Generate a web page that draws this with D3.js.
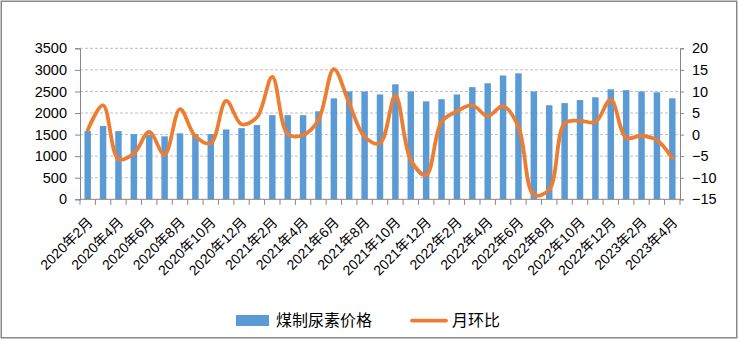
<!DOCTYPE html>
<html>
<head>
<meta charset="utf-8">
<script src="https://cdn.jsdelivr.net/npm/d3@7/dist/d3.min.js"></script>
<style>
  html, body { margin: 0; padding: 0; background: #fff; }
  svg { display: block; }
  text { font-family: "Liberation Sans", "Noto Sans CJK SC", sans-serif; fill: #000; }
</style>
</head>
<body>
<svg id="chart" width="738" height="339"></svg>
<script>
// Monthly categories, Feb 2020 – Apr 2023
const months = [
  "2020年2月","2020年3月","2020年4月","2020年5月","2020年6月","2020年7月","2020年8月","2020年9月","2020年10月","2020年11月","2020年12月",
  "2021年1月","2021年2月","2021年3月","2021年4月","2021年5月","2021年6月","2021年7月","2021年8月","2021年9月","2021年10月","2021年11月","2021年12月",
  "2022年1月","2022年2月","2022年3月","2022年4月","2022年5月","2022年6月","2022年7月","2022年8月","2022年9月","2022年10月","2022年11月","2022年12月",
  "2023年1月","2023年2月","2023年3月","2023年4月"
];

// 煤制尿素价格 (left axis)
const price = [
  1580, 1700, 1580, 1510, 1500, 1460, 1530, 1510, 1510, 1620, 1650,
  1720, 1950, 1950, 1950, 2040, 2340, 2500, 2500, 2430, 2665, 2500, 2270,
  2320, 2430, 2600, 2690, 2870, 2920, 2500, 2180, 2230, 2300, 2365, 2550,
  2530, 2500, 2480, 2340
];

// 月环比 (right axis, %)
const mom = [
  1.0, 6.8, -5.7, -4.4, 0.6, -4.7, 5.9, -0.4, -2.0, 7.8, 2.4,
  4.0, 13.4, 0.1, -0.1, 3.4, 15.2, 7.2, -0.5, -2.0, 9.1, -5.9, -9.4,
  3.0, 5.4, 6.8, 4.3, 6.6, 1.8, -14.0, -12.8, 2.6, 3.2, 2.9, 8.1,
  -0.7, -0.3, -1.3, -5.5
];

const leftTicks = [0, 500, 1000, 1500, 2000, 2500, 3000, 3500];
const rightTicks = [-15, -10, -5, 0, 5, 10, 15, 20];
const seriesNames = ["煤制尿素价格", "月环比"];

const svg = d3.select("#chart");
const axisColor = "#868686";
const barColor = "#5B9BD5";
const lineColor = "#ED7D31";

const plot = { left: 80, right: 680, top: 48.3, bottom: 199.3 };

// outer frame
svg.append("rect")
  .attr("x", 1.25).attr("y", 1.25)
  .attr("width", 735.5).attr("height", 336.5)
  .attr("fill", "#fff").attr("stroke", "#898989").attr("stroke-width", 1.5);

const x = d3.scaleBand().domain(months).range([plot.left, plot.right]).padding(0);
const yL = d3.scaleLinear().domain([0, 3500]).range([plot.bottom, plot.top]);
const yR = d3.scaleLinear().domain([-15, 20]).range([plot.bottom, plot.top]);

// dashed gridlines
svg.append("g").selectAll("line")
  .data(leftTicks.filter(d => d > 0))
  .join("line")
  .attr("x1", plot.left).attr("x2", plot.right)
  .attr("y1", d => yL(d)).attr("y2", d => yL(d))
  .attr("stroke", "#BFBFBF").attr("stroke-width", 1)
  .attr("stroke-dasharray", "3,2");

// bars
const barW = x.step() * 0.42;
svg.append("g").selectAll("rect")
  .data(price)
  .join("rect")
  .attr("x", (d, i) => x(months[i]) + x.step() / 2 - barW / 2)
  .attr("y", d => yL(d))
  .attr("width", barW)
  .attr("height", d => yL(0) - yL(d))
  .attr("fill", barColor);

// left axis
const gL = svg.append("g").attr("transform", `translate(${plot.left},0)`)
  .call(d3.axisLeft(yL).tickValues(leftTicks).tickFormat(d3.format("d")).tickSize(5).tickPadding(8));
gL.select(".domain").attr("stroke", axisColor);
gL.selectAll(".tick line").attr("stroke", axisColor);
gL.selectAll(".tick text").attr("font-size", "14.5px").attr("font-family", null).attr("fill", "#000");

// right axis
const gR = svg.append("g").attr("transform", `translate(${plot.right},0)`)
  .call(d3.axisRight(yR).tickValues(rightTicks).tickFormat(d3.format("d")).tickSize(4).tickPadding(8));
gR.select(".domain").attr("stroke", axisColor);
gR.selectAll(".tick line").attr("stroke", axisColor);
gR.selectAll(".tick text").attr("font-size", "14.5px").attr("font-family", null).attr("fill", "#000");

// bottom axis: line plus tick marks on category boundaries
const gB = svg.append("g");
gB.append("line")
  .attr("x1", plot.left).attr("x2", plot.right)
  .attr("y1", plot.bottom).attr("y2", plot.bottom)
  .attr("stroke", axisColor);
gB.selectAll("line.tk")
  .data(months.concat(["__end"]))
  .join("line").attr("class", "tk")
  .attr("x1", (d, i) => plot.left + i * x.step())
  .attr("x2", (d, i) => plot.left + i * x.step())
  .attr("y1", plot.bottom).attr("y2", plot.bottom + 5.5)
  .attr("stroke", axisColor);

// rotated category labels (every other month)
gB.selectAll("text")
  .data(months.filter((d, i) => i % 2 === 0))
  .join("text")
  .attr("transform", d => `translate(${x(d) + x.step() / 2 + 6},${plot.bottom + 24}) rotate(-45)`)
  .attr("text-anchor", "end")
  .attr("font-size", "14px")
  .text(d => d);

// month-on-month line
const line = d3.line()
  .x((d, i) => x(months[i]) + x.step() / 2)
  .y(d => yR(d))
  .curve(d3.curveCatmullRom.alpha(0.5));
svg.append("path")
  .datum(mom)
  .attr("d", line)
  .attr("fill", "none")
  .attr("stroke", lineColor)
  .attr("stroke-width", 3.75)
  .attr("stroke-linecap", "round")
  .attr("stroke-linejoin", "round");

// legend
const lg = svg.append("g");
lg.append("rect").attr("x", 236).attr("y", 315).attr("width", 33).attr("height", 11).attr("fill", barColor);
lg.append("text").attr("x", 276).attr("y", 326).attr("font-size", "16px").text(seriesNames[0]);
lg.append("line").attr("x1", 412).attr("x2", 446).attr("y1", 320.5).attr("y2", 320.5)
  .attr("stroke", lineColor).attr("stroke-width", 3.75).attr("stroke-linecap", "round");
lg.append("text").attr("x", 452).attr("y", 326).attr("font-size", "16px").text(seriesNames[1]);
</script>
</body>
</html>
